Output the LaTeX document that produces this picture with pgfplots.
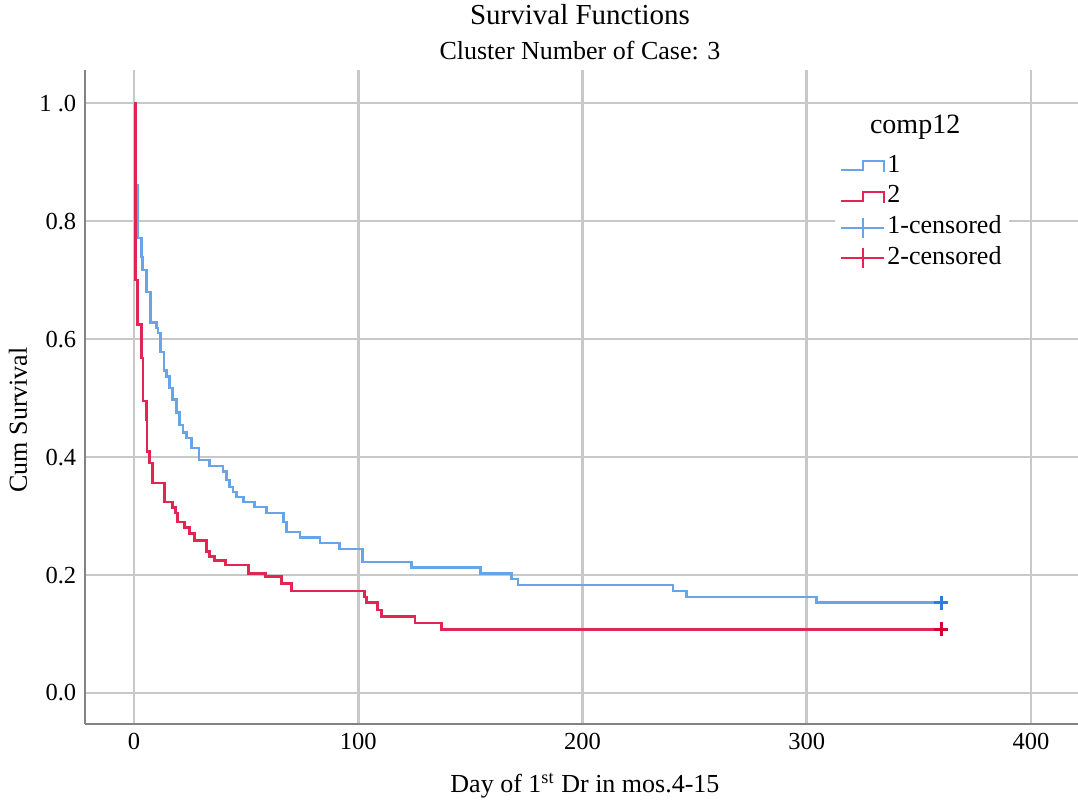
\documentclass[border=0pt]{standalone}
\usepackage{fontspec}
\setmainfont{Liberation Serif}
\usepackage{pgfplots}
\pgfplotsset{compat=1.18}

\definecolor{kmblue}{RGB}{104,164,232}
\definecolor{kmred}{RGB}{226,38,84}
\definecolor{cenblue}{RGB}{45,125,222}
\definecolor{cenred}{RGB}{212,0,48}
\definecolor{gridgray}{RGB}{200,200,200}
\definecolor{axisgray}{RGB}{130,130,130}

\begin{document}
\begin{tikzpicture}
\begin{axis}[
    name=ax,
    scale only axis,
    width=397.2pt, height=261.6pt,
    xmin=-21.8, xmax=420.9,
    ymin=-0.0525, ymax=1.056,
    axis lines=left,
    axis line style={-, draw=axisgray, line width=1pt},
    xtick={0,100,200,300,400},
    xticklabels={0,100,200,300,400},
    ytick={0,0.2,0.4,0.6,0.8,1},
    yticklabels={0.0,0.2,0.4,0.6,0.8,{1 .0}},
    major tick length=0pt,
    tick label style={font=\fontsize{9.8}{11}\selectfont},
    grid=major,
    grid style={draw=gridgray, line width=1.1pt},
    xlabel={Day of 1\textsuperscript{st} Dr in mos.4-15},
    ylabel={Cum Survival},
    label style={font=\fontsize{10.4}{12}\selectfont},
    xlabel style={at={(axis description cs:0.5035,-0.095)}, anchor=center},
    ylabel style={at={(axis description cs:-0.0675,0.465)}, anchor=center},
    clip=false,
    legend style={at={(axis description cs:0.755,0.885)}, anchor=north west,
        draw=none, fill=white, inner sep=2pt,
        font=\fontsize{10.4}{12}\selectfont,
        row sep=0pt, column sep=0pt,
        nodes={inner sep=0.8pt, text height=7.8pt, text depth=2.9pt}},
    legend cell align=left,
]

% group 1
\addplot[kmblue, line width=1.05pt, const plot,
    legend image code/.code={\draw[kmblue, line width=0.9pt] (0pt,-1.6pt) -- (8.8pt,-1.6pt) -- (8.8pt,2pt) -- (17.2pt,2pt) -- (17.2pt,-2.4pt);}]
coordinates {
 (0,1) (0.8,0.861) (1.6,0.771) (3.3,0.739) (3.9,0.717) (5.6,0.68) (7.4,0.628)
 (10,0.619) (10.8,0.61) (11.9,0.578) (13.4,0.547) (14.5,0.536) (16,0.517)
 (17.3,0.497) (18.9,0.476) (20.4,0.454) (21.9,0.442) (23.4,0.432) (25.6,0.415)
 (29,0.395) (33.8,0.385) (39.7,0.375) (41.2,0.361) (42.7,0.349) (44.2,0.341)
 (45.7,0.332) (49,0.324) (53.9,0.315) (59.1,0.305) (66.8,0.29) (68,0.273)
 (74,0.264) (82.9,0.254) (91.8,0.244) (101.9,0.222) (123.7,0.213) (154.6,0.203)
 (168.3,0.193) (171.3,0.183) (240.3,0.173) (246.3,0.163) (304.3,0.153) (360,0.153)
};
\addlegendentry{1}

% group 2
\addplot[kmred, line width=1.05pt, const plot,
    legend image code/.code={\draw[kmred, line width=0.9pt] (0pt,-1.6pt) -- (8.8pt,-1.6pt) -- (8.8pt,2pt) -- (17.2pt,2pt) -- (17.2pt,-2.4pt);}]
coordinates {
 (0,1) (0.8,0.70) (1.7,0.625) (3.3,0.568) (4.1,0.495) (5.5,0.463) (5.9,0.409)
 (7,0.39) (8.4,0.356) (13.7,0.324) (17.3,0.314) (18.5,0.305) (19.5,0.29)
 (22.6,0.281) (24.9,0.27) (27.1,0.258) (32.5,0.24) (33.8,0.231) (36,0.225)
 (40.9,0.217) (51.2,0.203) (58.8,0.197) (65.9,0.186) (70.4,0.173) (102.9,0.163)
 (103.8,0.153) (108.7,0.141) (110.5,0.13) (125.4,0.119) (137.2,0.108) (360,0.108)
};
\addlegendentry{2}

% censored
\addplot[only marks, mark=+, mark size=2.8pt, cenblue, line width=1.3pt,
    legend image code/.code={\draw[kmblue, line width=0.8pt] (0pt,0pt) -- (17.2pt,0pt); \draw[kmblue, line width=0.8pt] (8.8pt,-4pt) -- (8.8pt,4pt);}]
coordinates {(360,0.153)};
\addlegendentry{1-censored}

\addplot[only marks, mark=+, mark size=2.8pt, cenred, line width=1.3pt,
    legend image code/.code={\draw[kmred, line width=0.8pt] (0pt,0pt) -- (17.2pt,0pt); \draw[kmred, line width=0.8pt] (8.8pt,-4pt) -- (8.8pt,4pt);}]
coordinates {(360,0.108)};
\addlegendentry{2-censored}

\node[font=\fontsize{11.2}{13}\selectfont] at (axis description cs:0.836,0.913) {comp12};
\node[font=\fontsize{11.6}{13}\selectfont] at (axis description cs:0.4985,1.084) {Survival Functions};
\node[font=\fontsize{10.4}{12}\selectfont] at (axis description cs:0.4985,1.029) {Cluster Number of Case: 3};
\end{axis}
\pgfresetboundingbox
\path (ax.south west) ++(-34pt,-31.6pt) rectangle ++(431.2pt,321.2pt);
\end{tikzpicture}
\end{document}
